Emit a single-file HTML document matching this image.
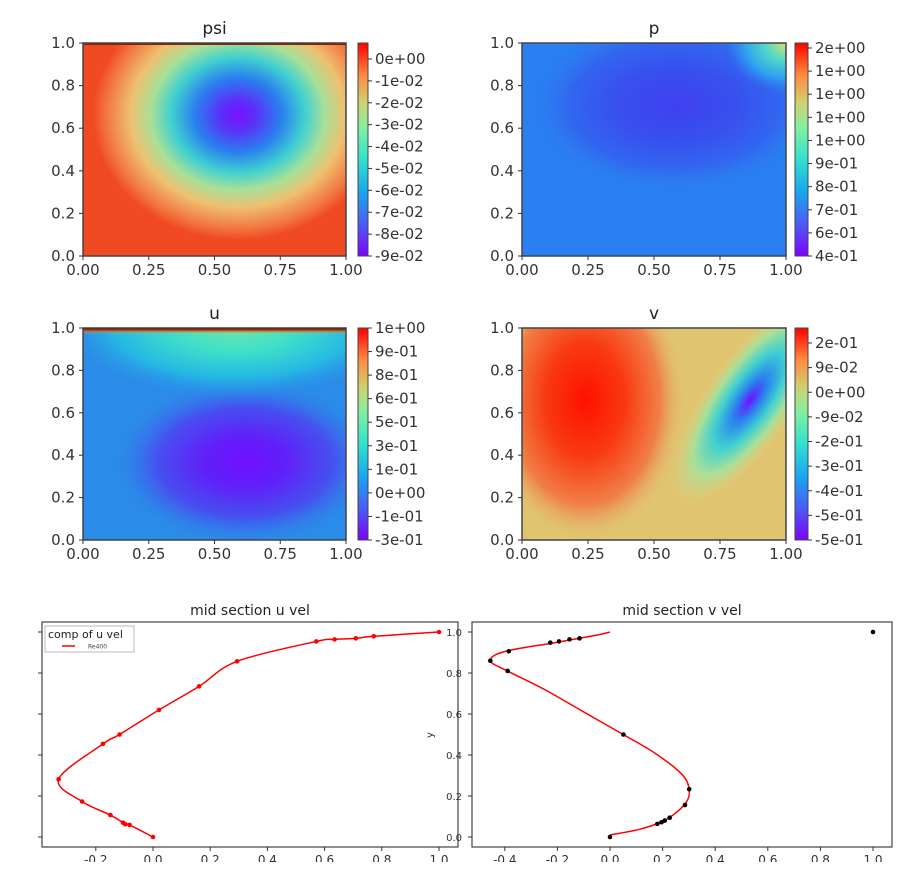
<!DOCTYPE html>
<html><head><meta charset="utf-8"><style>
body{margin:0;background:#fff;width:921px;height:870px;overflow:hidden;font-family:"DejaVu Sans","Liberation Sans",sans-serif}
svg{display:block}
</style></head><body>
<svg id="root" width="921" height="870" viewBox="0 0 921 870" xmlns="http://www.w3.org/2000/svg">
<defs>
<linearGradient id="rainbow" x1="0" y1="1" x2="0" y2="0">
<stop offset="0" stop-color="#7f00ff"/><stop offset="0.15" stop-color="#4a5cf6"/><stop offset="0.3" stop-color="#1aa6ef"/><stop offset="0.45" stop-color="#30e0d0"/><stop offset="0.6" stop-color="#80f0a0"/><stop offset="0.72" stop-color="#d0d070"/><stop offset="0.85" stop-color="#ff8a40"/><stop offset="1" stop-color="#ff0000"/></linearGradient>
<radialGradient id="psiG">
<stop offset="0" stop-color="#7a10ff"/><stop offset="0.12" stop-color="#5a30f8"/><stop offset="0.3" stop-color="#2a80ee"/><stop offset="0.46" stop-color="#40d0d0"/><stop offset="0.6" stop-color="#a8e098"/><stop offset="0.74" stop-color="#eec070"/><stop offset="0.9" stop-color="#f27a42"/><stop offset="1" stop-color="#f04a22"/></radialGradient>
<radialGradient id="pG"><stop offset="0" stop-color="#4040f0"/><stop offset="0.4" stop-color="#3850ee"/><stop offset="0.7" stop-color="#3266ef"/><stop offset="1" stop-color="#2a80f0" stop-opacity="0"/></radialGradient>
<radialGradient id="pC"><stop offset="0" stop-color="#d8e070"/><stop offset="0.35" stop-color="#50d8c8"/><stop offset="0.7" stop-color="#30a0f0"/><stop offset="1" stop-color="#2a80f0" stop-opacity="0"/></radialGradient>
<radialGradient id="uTop"><stop offset="0" stop-color="#70e8a8"/><stop offset="0.35" stop-color="#40e0c8"/><stop offset="0.7" stop-color="#25b8e4"/><stop offset="1" stop-color="#2a8ce8" stop-opacity="0"/></radialGradient>
<linearGradient id="uLid" x1="0" y1="0" x2="0" y2="1"><stop offset="0" stop-color="#200000"/><stop offset="0.4" stop-color="#d04010"/><stop offset="1" stop-color="#c8c860" stop-opacity="0"/></linearGradient>
<radialGradient id="uG"><stop offset="0" stop-color="#7010ff"/><stop offset="0.3" stop-color="#6020f8"/><stop offset="0.65" stop-color="#4650f0"/><stop offset="1" stop-color="#2a8ce8" stop-opacity="0"/></radialGradient>
<radialGradient id="vR"><stop offset="0" stop-color="#ff1000"/><stop offset="0.4" stop-color="#f83a10"/><stop offset="0.75" stop-color="#f08048"/><stop offset="1" stop-color="#e0c070" stop-opacity="0"/></radialGradient>
<radialGradient id="vB"><stop offset="0" stop-color="#7010ff"/><stop offset="0.2" stop-color="#2a80f0"/><stop offset="0.45" stop-color="#40d0d0"/><stop offset="0.7" stop-color="#a8e098"/><stop offset="1" stop-color="#e0d080" stop-opacity="0"/></radialGradient>
<clipPath id="cPsi"><rect x="83" y="43" width="263" height="213"/></clipPath>
<clipPath id="cP"><rect x="522" y="43" width="264" height="213"/></clipPath>
<clipPath id="cU"><rect x="83" y="328" width="263" height="212"/></clipPath>
<clipPath id="cV"><rect x="522" y="328" width="264" height="212"/></clipPath>
</defs>

<g clip-path="url(#cPsi)">
<rect x="83" y="43" width="263" height="213" fill="#f04a22"/>
<ellipse cx="238" cy="115" rx="145" ry="125" fill="url(#psiG)"/>
<rect x="83" y="43" width="263" height="2" fill="#8a2000"/>
</g>
<g clip-path="url(#cP)">
<rect x="522" y="43" width="264" height="213" fill="#2a80f0"/>
<ellipse cx="675" cy="105" rx="150" ry="90" fill="url(#pG)"/>
<ellipse cx="786" cy="43" rx="60" ry="50" fill="url(#pC)"/>
</g>
<g clip-path="url(#cU)">
<rect x="83" y="328" width="263" height="212" fill="#2a8ce8"/>
<ellipse cx="245" cy="462" rx="135" ry="85" fill="url(#uG)"/>
<ellipse cx="235" cy="325" rx="175" ry="75" fill="url(#uTop)"/>
<rect x="83" y="328" width="263" height="6" fill="url(#uLid)"/>
</g>
<g clip-path="url(#cV)">
<rect x="522" y="328" width="264" height="212" fill="#e0c470"/>
<ellipse cx="585" cy="400" rx="100" ry="140" fill="url(#vR)"/>
<ellipse cx="750" cy="400" rx="45" ry="125" transform="rotate(35 750 400)" fill="url(#vB)"/>
</g>

<g id="panels"></g>
<g id="bottom"></g>
<rect x="0" y="862" width="921" height="8" fill="#fff"/>
</svg>
<script>
const NS='http://www.w3.org/2000/svg';
function mk(tag,attrs,parent,txt){const e=document.createElementNS(NS,tag);for(const k in attrs)e.setAttribute(k,attrs[k]);if(txt!==undefined)e.textContent=txt;parent.appendChild(e);return e;}
const panelsG=document.getElementById('panels');
const panelDefs=[
 {name:'psi',x0:83,x1:346,y0:43,y1:256,cb:358,cbw:10,title:'psi',cbTop:59,cbLabels:['0e+00','-1e-02','-2e-02','-3e-02','-4e-02','-5e-02','-6e-02','-7e-02','-8e-02','-9e-02']},
 {name:'p',x0:522,x1:786,y0:43,y1:256,cb:795,cbw:13,title:'p',cbTop:48,cbLabels:['2e+00','1e+00','1e+00','1e+00','1e+00','9e-01','8e-01','7e-01','6e-01','4e-01']},
 {name:'u',x0:83,x1:346,y0:328,y1:540,cb:358,cbw:10,title:'u',cbTop:328,cbLabels:['1e+00','9e-01','8e-01','6e-01','5e-01','3e-01','1e-01','0e+00','-1e-01','-3e-01']},
 {name:'v',x0:522,x1:786,y0:328,y1:540,cb:795,cbw:13,title:'v',cbTop:343,cbLabels:['2e-01','9e-02','0e+00','-9e-02','-2e-01','-3e-01','-4e-01','-5e-01','-5e-01']}
];
const heatX=['0.00','0.25','0.50','0.75','1.00'];
const heatY=['0.0','0.2','0.4','0.6','0.8','1.0'];
panelDefs.forEach(p=>{
 const g=mk('g',{},panelsG);
 
 
 const fr=mk('rect',{x:p.x0,y:p.y0,width:p.x1-p.x0,height:p.y1-p.y0,fill:'none',stroke:'#444','stroke-width':1.5},g);
 
 const t=mk('text',{x:(p.x0+p.x1)/2,y:p.y0-9,'text-anchor':'middle','font-size':17,fill:'#222'},g,p.title);
 
 heatX.forEach((l,i)=>{const x=p.x0+(p.x1-p.x0)*i/4;
  mk('line',{x1:x,x2:x,y1:p.y1,y2:p.y1+4,stroke:'#333'},g);
  const tx=mk('text',{x:x,y:p.y1+19,'text-anchor':'middle','font-size':15,fill:'#333'},g,l);
  });
 heatY.forEach((l,i)=>{const y=p.y1-(p.y1-p.y0)*i/5;
  mk('line',{x1:p.x0-4,x2:p.x0,y1:y,y2:y,stroke:'#333'},g);
  const ty=mk('text',{x:p.x0-8,y:y+5,'text-anchor':'end','font-size':15,fill:'#333'},g,l);
  });
 const cb=mk('rect',{x:p.cb,y:p.y0,width:p.cbw,height:p.y1-p.y0,fill:'url(#rainbow)',stroke:'#444'},g);
 
 const n=p.cbLabels.length;const step=(p.y1-p.cbTop)/(n-1);
 p.cbLabels.forEach((l,i)=>{const y=p.cbTop+i*step;
  mk('line',{x1:p.cb+p.cbw,x2:p.cb+p.cbw+4,y1:y,y2:y,stroke:'#333'},g);
  const tl=mk('text',{x:p.cb+p.cbw+7,y:y+5,'font-size':15,fill:'#333'},g,l);
  });
});

const uPtsU=[0,-0.082,-0.097,-0.105,-0.149,-0.248,-0.33,-0.175,-0.117,0.021,0.161,0.294,0.571,0.635,0.709,0.772,1.0];
const uPtsY=[0,0.059,0.062,0.07,0.107,0.173,0.282,0.454,0.50,0.62,0.735,0.857,0.954,0.964,0.969,0.979,1.0];
const uTicks=[-0.2,0.0,0.2,0.4,0.6,0.8,1.0];
const vPtsX=[0,0.18,0.196,0.208,0.227,0.285,0.301,0.051,-0.389,-0.455,-0.385,-0.227,-0.194,-0.154,-0.116,1.0];
const vPtsY=[0,0.064,0.072,0.08,0.094,0.156,0.233,0.50,0.81,0.86,0.906,0.948,0.954,0.964,0.969,1.0];
const vLineX=[0,0.12,0.22,0.29,0.3,0.27,0.17,0.05,-0.1,-0.25,-0.39,-0.455,-0.4,-0.2,-0.05,0];
const vLineY=[0.01,0.04,0.09,0.17,0.24,0.31,0.41,0.50,0.61,0.72,0.81,0.86,0.905,0.95,0.985,1.0];
const vTicks=[-0.4,-0.2,0.0,0.2,0.4,0.6,0.8,1.0];
const yTicks=[0.0,0.2,0.4,0.6,0.8,1.0];

const B=document.getElementById('bottom');
const xsL=v=>153+v*286, xsR=v=>610+v*263, ys=v=>837-v*205;
function smooth(xs,ysv){let d='M'+xs[0]+','+ysv[0];for(let i=0;i<xs.length-1;i++){const p0=i?i-1:i,p3=i+2<xs.length?i+2:i+1;
 const c1x=xs[i]+(xs[i+1]-xs[p0])/6,c1y=ysv[i]+(ysv[i+1]-ysv[p0])/6,c2x=xs[i+1]-(xs[p3]-xs[i])/6,c2y=ysv[i+1]-(ysv[p3]-ysv[i])/6;
 d+=' C'+c1x+','+c1y+' '+c2x+','+c2y+' '+xs[i+1]+','+ysv[i+1];}return d;}
function axes(x0,x1,name,title,ticks,xs){
 const g=mk('g',{},B);
 const fr=mk('rect',{x:x0,y:622,width:x1-x0,height:225,fill:'none',stroke:'#444','stroke-width':1.2},g);
 
 const t=mk('text',{x:(x0+x1)/2,y:615,'text-anchor':'middle','font-size':14,fill:'#222'},g,title);
 
 ticks.forEach(v=>{const x=xs(v);mk('line',{x1:x,x2:x,y1:847,y2:851,stroke:'#333'},g);
  const tx=mk('text',{x:x,y:864,'text-anchor':'middle','font-size':12,fill:'#333'},g,v.toFixed(1));
  });
 yTicks.forEach(v=>{const y=ys(v);mk('line',{x1:x0-4,x2:x0,y1:y,y2:y,stroke:'#333'},g);});
 return g;}
const gL=axes(42,458,'u-vel-chart','mid section u vel',uTicks,xsL);
const lineL=mk('path',{d:smooth(uPtsU.map(xsL),uPtsY.map(ys)),fill:'none',stroke:'#f00','stroke-width':1.5},gL);

uPtsU.forEach((v,i)=>{const c=mk('circle',{cx:xsL(v),cy:ys(uPtsY[i]),r:2.3,fill:'#f00'},gL);
 });
const lg=mk('g',{},gL);
mk('rect',{x:45,y:626,width:89,height:26,fill:'#fff',stroke:'#bbb'},lg);
mk('text',{x:48,y:638,'font-size':11,fill:'#222'},lg,'comp of u vel');
mk('line',{x1:62,x2:75,y1:646,y2:646,stroke:'#f00','stroke-width':1.5},lg);
mk('text',{x:88,y:648.5,'font-size':6,fill:'#444'},lg,'Re400');

const gR=axes(472,892,'v-vel-chart','mid section v vel',vTicks,xsR);
yTicks.forEach(v=>{const ty=mk('text',{x:462,y:ys(v)+4,'text-anchor':'end','font-size':10,fill:'#333'},gR,v.toFixed(1));
 });
const yl=mk('text',{x:433,y:735,'text-anchor':'middle','font-size':10,fill:'#333',transform:'rotate(-90 433 735)'},gR,'y');

const lineR=mk('path',{d:smooth(vLineX.map(xsR),vLineY.map(ys)),fill:'none',stroke:'#f00','stroke-width':1.5},gR);

vPtsX.forEach((v,i)=>{const c=mk('circle',{cx:xsR(v),cy:ys(vPtsY[i]),r:2.3,fill:'#000'},gR);
 });
</script>
</body></html>
